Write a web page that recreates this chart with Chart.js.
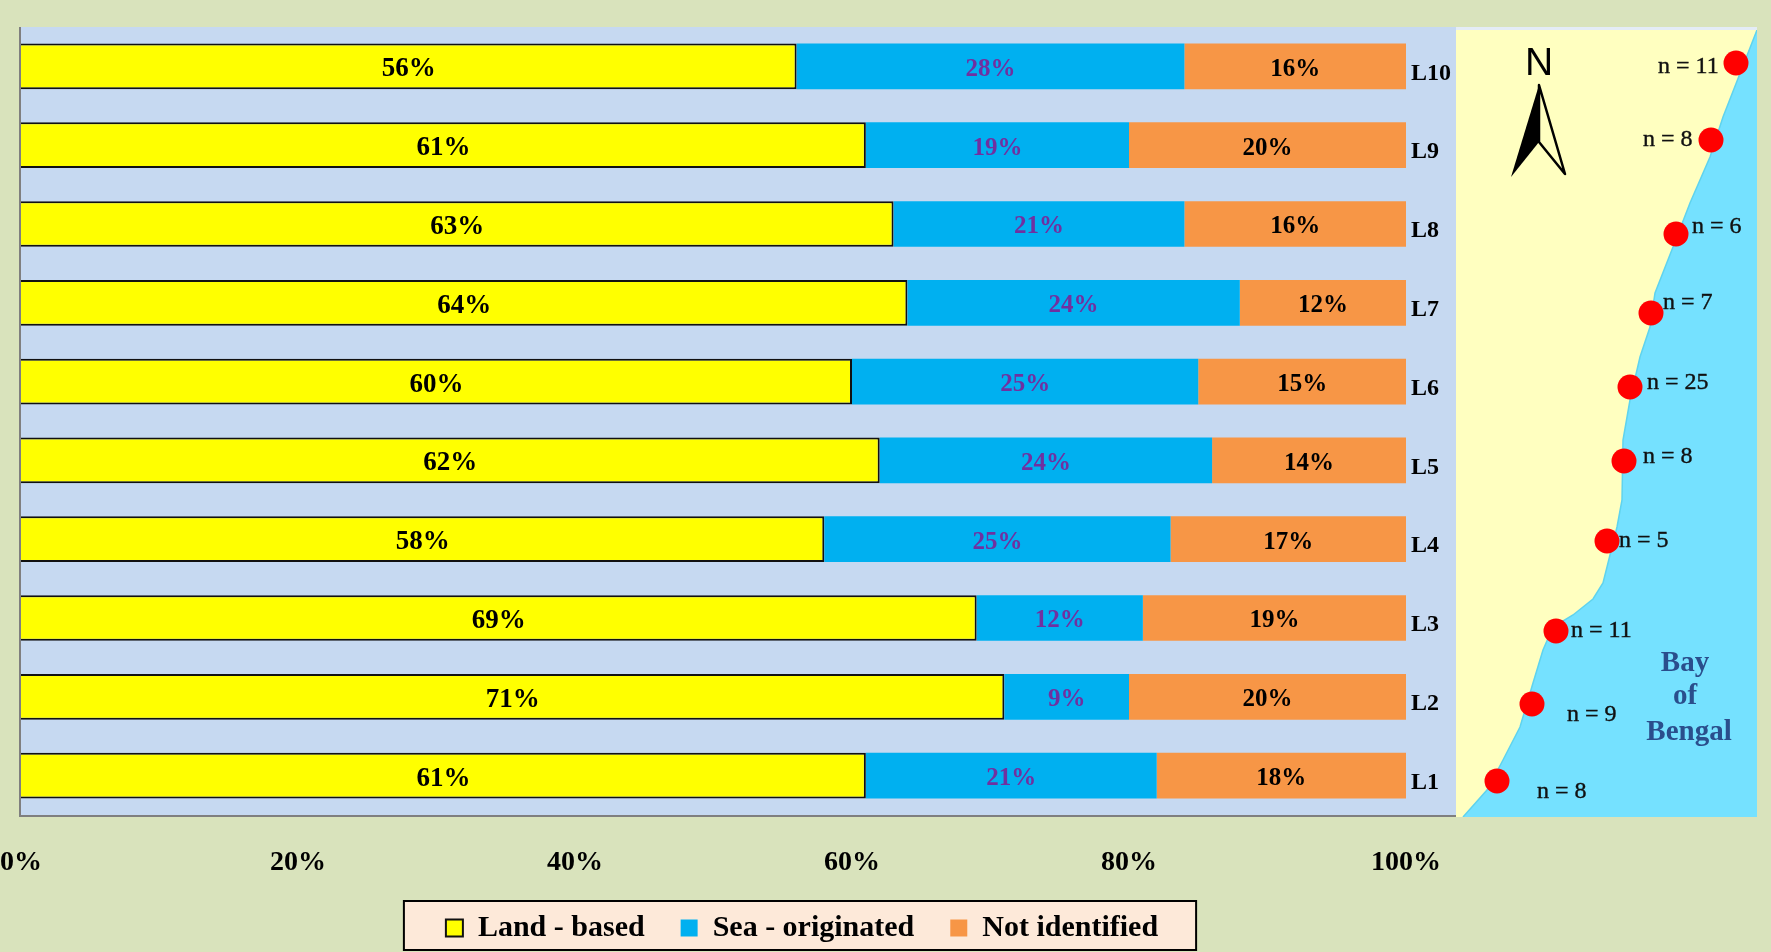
<!DOCTYPE html>
<html>
<head>
<meta charset="utf-8">
<title>Litter sources by location</title>
<script src="https://cdn.jsdelivr.net/npm/chart.js@4"></script>
<style>
html, body { margin: 0; height: 100%; overflow: hidden; background: #D9E3BC; }
#bars { position: absolute; left: 0; top: 0; }
#map { position: absolute; left: 1456px; top: 30px; background: #FFFFC0; box-shadow: 0 -3px 0 #E4ECF6; }
</style>
</head>
<body>
<canvas id="bars" width="1604" height="952"></canvas>
<canvas id="map" width="301" height="787"></canvas>
<script>
// stacked bars
var locations = ["L10", "L9", "L8", "L7", "L6", "L5", "L4", "L3", "L2", "L1"];
var landBased = [56, 61, 63, 64, 60, 62, 58, 69, 71, 61];
var seaOriginated = [28, 19, 21, 24, 25, 24, 25, 12, 9, 21];
var notIdentified = [16, 20, 16, 12, 15, 14, 17, 19, 20, 18];
var tickLabels = ["0%", "20%", "40%", "60%", "80%", "100%"];

// map, in its own units: x from the west edge, y from the south edge
var coastX = [7, 31, 47, 64, 77, 87, 97, 117, 137, 147, 151, 161, 166, 167, 174, 184, 194, 199, 217, 234, 254, 267, 301];
var coastY = [0, 27, 57, 90, 134, 167, 190, 202, 218, 234, 250, 290, 317, 377, 417, 460, 490, 524, 570, 614, 660, 700, 787];
var siteX = [280, 255, 220, 195, 174, 168, 151, 100, 76, 41];
var siteY = [754, 677, 583, 504, 430, 356, 276, 186, 113, 36];
var siteCounts = [11, 8, 6, 7, 25, 8, 5, 11, 9, 8];
var countLabelX = [202, 187, 236, 207, 191, 187, 163, 115, 111, 81];
var countLabelY = [750, 677, 590, 514, 434, 360, 276, 186, 102, 25];
var seaName = ["Bay", "of", "Bengal"];
var seaNameX = [229, 229, 233];
var seaNameY = [153, 120, 84];

var SERIF = '"Liberation Serif", serif';

var plotBackground = {
    id: 'plotBackground',
    beforeDraw: function (chart) {
        var ctx = chart.ctx, a = chart.chartArea;
        var bandRight = a.right + 50;
        ctx.save();
        ctx.fillStyle = '#C6D9F1';
        ctx.fillRect(a.left, a.top, bandRight - a.left, a.bottom - a.top);
        ctx.strokeStyle = '#7F7F7F';
        ctx.lineWidth = 2;
        ctx.beginPath();
        ctx.moveTo(a.left - 1, a.top);
        ctx.lineTo(a.left - 1, a.bottom + 1);
        ctx.lineTo(bandRight, a.bottom + 1);
        ctx.stroke();
        // legend frame
        var hits = chart.legend.legendHitBoxes;
        var last = hits[hits.length - 1];
        var frameLeft = hits[0].left - 42;
        var frameWidth = last.left + last.width + 38 - frameLeft;
        ctx.fillStyle = '#FDE9D9';
        ctx.strokeStyle = '#000';
        ctx.fillRect(frameLeft, 901, frameWidth, 49);
        ctx.strokeRect(frameLeft, 901, frameWidth, 49);
        ctx.restore();
    }
};

var barLabels = {
    id: 'barLabels',
    afterDatasetsDraw: function (chart) {
        var ctx = chart.ctx;
        ctx.save();
        ctx.textAlign = 'center';
        ctx.textBaseline = 'middle';
        chart.data.datasets.forEach(function (ds, d) {
            ctx.fillStyle = ds.labelColor;
            ctx.font = 'bold ' + ds.labelSize + 'px ' + SERIF;
            chart.getDatasetMeta(d).data.forEach(function (bar, i) {
                var c = bar.getCenterPoint();
                ctx.fillText(ds.data[i] + '%', c.x, c.y + 3);
            });
        });
        ctx.restore();
    }
};

new Chart(document.getElementById('bars').getContext('2d'), {
    type: 'bar',
    data: {
        labels: locations,
        datasets: [
            { label: 'Land - based', data: landBased, backgroundColor: '#FFFF00', borderColor: '#111', borderWidth: 2, labelColor: '#000', labelSize: 27 },
            { label: 'Sea - originated', data: seaOriginated, backgroundColor: '#00B0F0', labelColor: '#7030A0', labelSize: 25 },
            { label: 'Not identified', data: notIdentified, backgroundColor: '#F79646', labelColor: '#000', labelSize: 25 }
        ]
    },
    options: {
        indexAxis: 'y',
        responsive: false,
        animation: false,
        barPercentage: 0.58,
        categoryPercentage: 1,
        layout: { padding: { left: 21, top: 27, right: 21, bottom: -1 } },
        scales: {
            x: {
                stacked: true,
                min: 0,
                max: 100,
                grid: { display: false, drawTicks: false },
                border: { display: false },
                ticks: {
                    stepSize: 20,
                    maxRotation: 0,
                    color: '#000',
                    padding: 31,
                    font: { family: SERIF, weight: 'bold', size: 28 },
                    callback: function (v) { return tickLabels[v / 20]; }
                },
                afterFit: function (scale) {
                    scale.height = 62;
                    scale.paddingLeft = 0;
                    scale.paddingRight = 0;
                }
            },
            y: {
                stacked: true,
                position: 'right',
                grid: { display: false, drawTicks: false },
                border: { display: false },
                ticks: {
                    color: '#000',
                    padding: 5,
                    labelOffset: 7,
                    font: { family: SERIF, weight: 'bold', size: 24 }
                },
                // wide enough to centre the legend under the plot and map
                afterFit: function (scale) { scale.width = 177; }
            }
        },
        plugins: {
            tooltip: { enabled: false },
            legend: {
                position: 'bottom',
                labels: {
                    color: '#000',
                    boxWidth: 17,
                    boxHeight: 17,
                    padding: 36,
                    font: { family: SERIF, weight: 'bold', size: 30 }
                }
            }
        }
    },
    plugins: [plotBackground, barLabels]
});

var mapNotes = {
    id: 'mapNotes',
    afterDatasetsDraw: function (chart) {
        var ctx = chart.ctx, sx = chart.scales.x, sy = chart.scales.y;
        var px = function (v) { return sx.getPixelForValue(v); };
        var py = function (v) { return sy.getPixelForValue(v); };
        ctx.save();
        ctx.textBaseline = 'middle';

        ctx.fillStyle = '#111';
        ctx.strokeStyle = '#111';
        ctx.lineWidth = 0.4;
        ctx.textAlign = 'left';
        ctx.font = '24px ' + SERIF;
        siteCounts.forEach(function (n, i) {
            var t = 'n = ' + n;
            ctx.fillText(t, px(countLabelX[i]), py(countLabelY[i]));
            ctx.strokeText(t, px(countLabelX[i]), py(countLabelY[i]));
        });

        ctx.fillStyle = '#2A4E8C';
        ctx.textAlign = 'center';
        ctx.font = 'bold 29px ' + SERIF;
        seaName.forEach(function (t, i) {
            ctx.fillText(t, px(seaNameX[i]), py(seaNameY[i]));
        });

        // north arrow
        ctx.fillStyle = '#000';
        ctx.font = '39px "Liberation Sans", sans-serif';
        ctx.fillText('N', px(83), py(753));
        ctx.beginPath();
        ctx.moveTo(px(83), py(732));
        ctx.lineTo(px(55), py(640));
        ctx.lineTo(px(83), py(675));
        ctx.closePath();
        ctx.fill();
        ctx.strokeStyle = '#000';
        ctx.lineWidth = 2.5;
        ctx.lineJoin = 'round';
        ctx.beginPath();
        ctx.moveTo(px(83), py(732));
        ctx.lineTo(px(109), py(643));
        ctx.lineTo(px(83), py(675));
        ctx.closePath();
        ctx.stroke();
        ctx.restore();
    }
};

new Chart(document.getElementById('map').getContext('2d'), {
    type: 'scatter',
    data: {
        datasets: [
            {
                label: 'Sites',
                data: siteX.map(function (x, i) { return { x: x, y: siteY[i] }; }),
                backgroundColor: '#FF0000',
                borderWidth: 0,
                pointRadius: 12.5,
                order: 1
            },
            {
                label: 'Coast',
                data: coastX.map(function (x, i) { return { x: x, y: coastY[i] }; }),
                showLine: true,
                fill: 'start',
                backgroundColor: '#75E1FF',
                borderColor: '#5FD3EE',
                borderWidth: 1.5,
                pointRadius: 0,
                order: 2
            }
        ]
    },
    options: {
        responsive: false,
        animation: false,
        layout: { padding: 0, autoPadding: false },
        scales: {
            x: { type: 'linear', display: false, min: 0, max: 301 },
            y: { type: 'linear', display: false, min: 0, max: 787 }
        },
        plugins: { legend: { display: false }, tooltip: { enabled: false } }
    },
    plugins: [mapNotes]
});
</script>
</body>
</html>
